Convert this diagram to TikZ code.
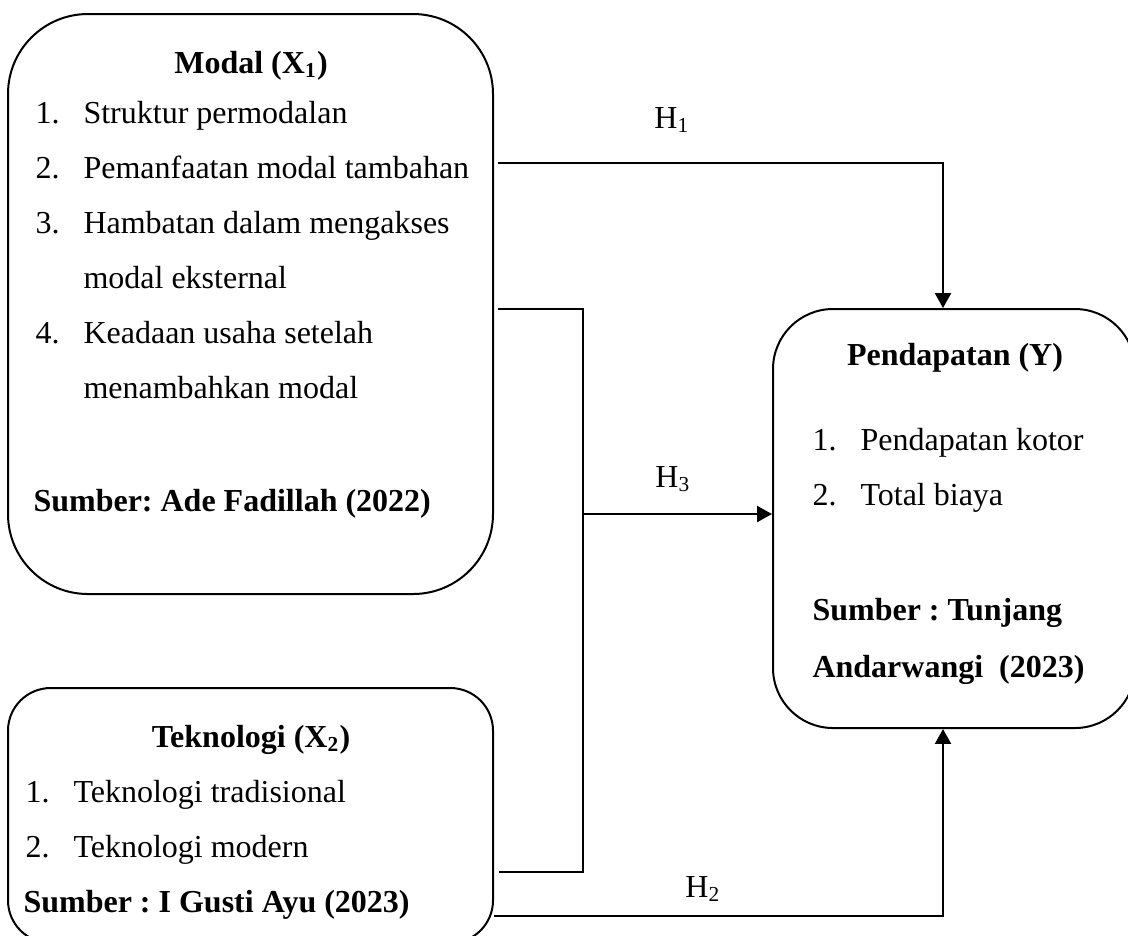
\documentclass[tikz,border=0pt]{standalone}
\usepackage{fontspec}
\setmainfont{Liberation Serif}
\frenchspacing
\usetikzlibrary{arrows.meta, fit}
\tikzset{
>={Triangle[length=5.6pt, width=6pt]}, % solid arrow heads
box/.style={draw, line width=0.75pt, inner sep=0pt}, % frames of the variables
txt/.style={font=\fontsize{12}{14.4}\selectfont, inner sep=0pt}, % normal text
bold/.style={font=\fontsize{12}{14.4}\selectfont\bfseries}, % titles and sources
head/.style={txt, bold, anchor=base}, % box titles
item/.style={txt, anchor=base west}, % list lines
lab/.style={txt, anchor=base}, % hypothesis labels
link/.style={line width=0.8pt}, % plain connector
hyp/.style={link, ->}, % hypothesis arrow
}

\begin{document}
\begin{tikzpicture}[x=0.375pt, y=-0.375pt]
\clip (0,0) rectangle (1128,935);
% frames
\node[box, rounded corners=30pt, fit={(8,14) (493,594)}] (modal) {};
\node[box, rounded corners=16pt, fit={(8,688) (493,943)}] (tekno) {};
\node[box, rounded corners=22.5pt, fit={(773,309) (1135,728)}] (pendapatan) {};

% modal
\node[head] (mtitle) at (251,73) {Modal (X\textsubscript{1})};
\node[item] (m1) at (35,123) {\makebox[18pt][l]{1.}Struktur permodalan};
\node[item] (m2) at (35,178) {\makebox[18pt][l]{2.}Pemanfaatan modal tambahan};
\node[item] (m3) at (35,233) {\makebox[18pt][l]{3.}Hambatan dalam mengakses};
\node[item] (m3b) at (83,288) {modal eksternal};
\node[item] (m4) at (35,343) {\makebox[18pt][l]{4.}Keadaan usaha setelah};
\node[item] (m4b) at (83,398) {menambahkan modal};
\node[item, bold] (msrc) at (33,511) {Sumber: Ade Fadillah (2022)};

% teknologi
\node[head] (ttitle) at (251,747) {Teknologi (X\textsubscript{2})};
\node[item] (t1) at (25,802) {\makebox[18pt][l]{1.}Teknologi tradisional};
\node[item] (t2) at (25,857) {\makebox[18pt][l]{2.}Teknologi modern};
\node[item, bold] (tsrc) at (23,912) {Sumber : I Gusti Ayu (2023)};

% pendapatan
\node[head] (ptitle) at (955,365) {Pendapatan (Y)};
\node[item] (p1) at (812,450) {\makebox[18pt][l]{1.}Pendapatan kotor};
\node[item] (p2) at (812,505) {\makebox[18pt][l]{2.}Total biaya};
\node[item, bold] (psrc) at (812,620) {Sumber : Tunjang};
\node[item, bold] (psrc2) at (812,677) {Andarwangi\ \ (2023)};

% hypotheses
\node[lab] (h1) at (672,128) {H\textsubscript{1}};
\node[lab] (h3) at (673,487) {H\textsubscript{3}};
\node[lab] (h2) at (703,897) {H\textsubscript{2}};

\coordinate (h1row) at (0,163);
\coordinate (h3top) at (0,309);
\coordinate (h3low) at (0,872);
\coordinate (h2row) at (0,916);
\coordinate (bus) at (583,514);
\coordinate (drop) at (943,0);

\draw[hyp, shorten <=1.5pt] (modal.east |- h1row) -| (pendapatan.north -| drop);
\draw[link, shorten <=1.5pt, shorten >=2pt] (modal.east |- h3top) -| (bus) |- (tekno.east |- h3low);
\draw[hyp] (bus) -- (pendapatan.west |- bus);
\draw[hyp] (tekno.east |- h2row) -| (pendapatan.south -| drop);
\end{tikzpicture}
\end{document}
